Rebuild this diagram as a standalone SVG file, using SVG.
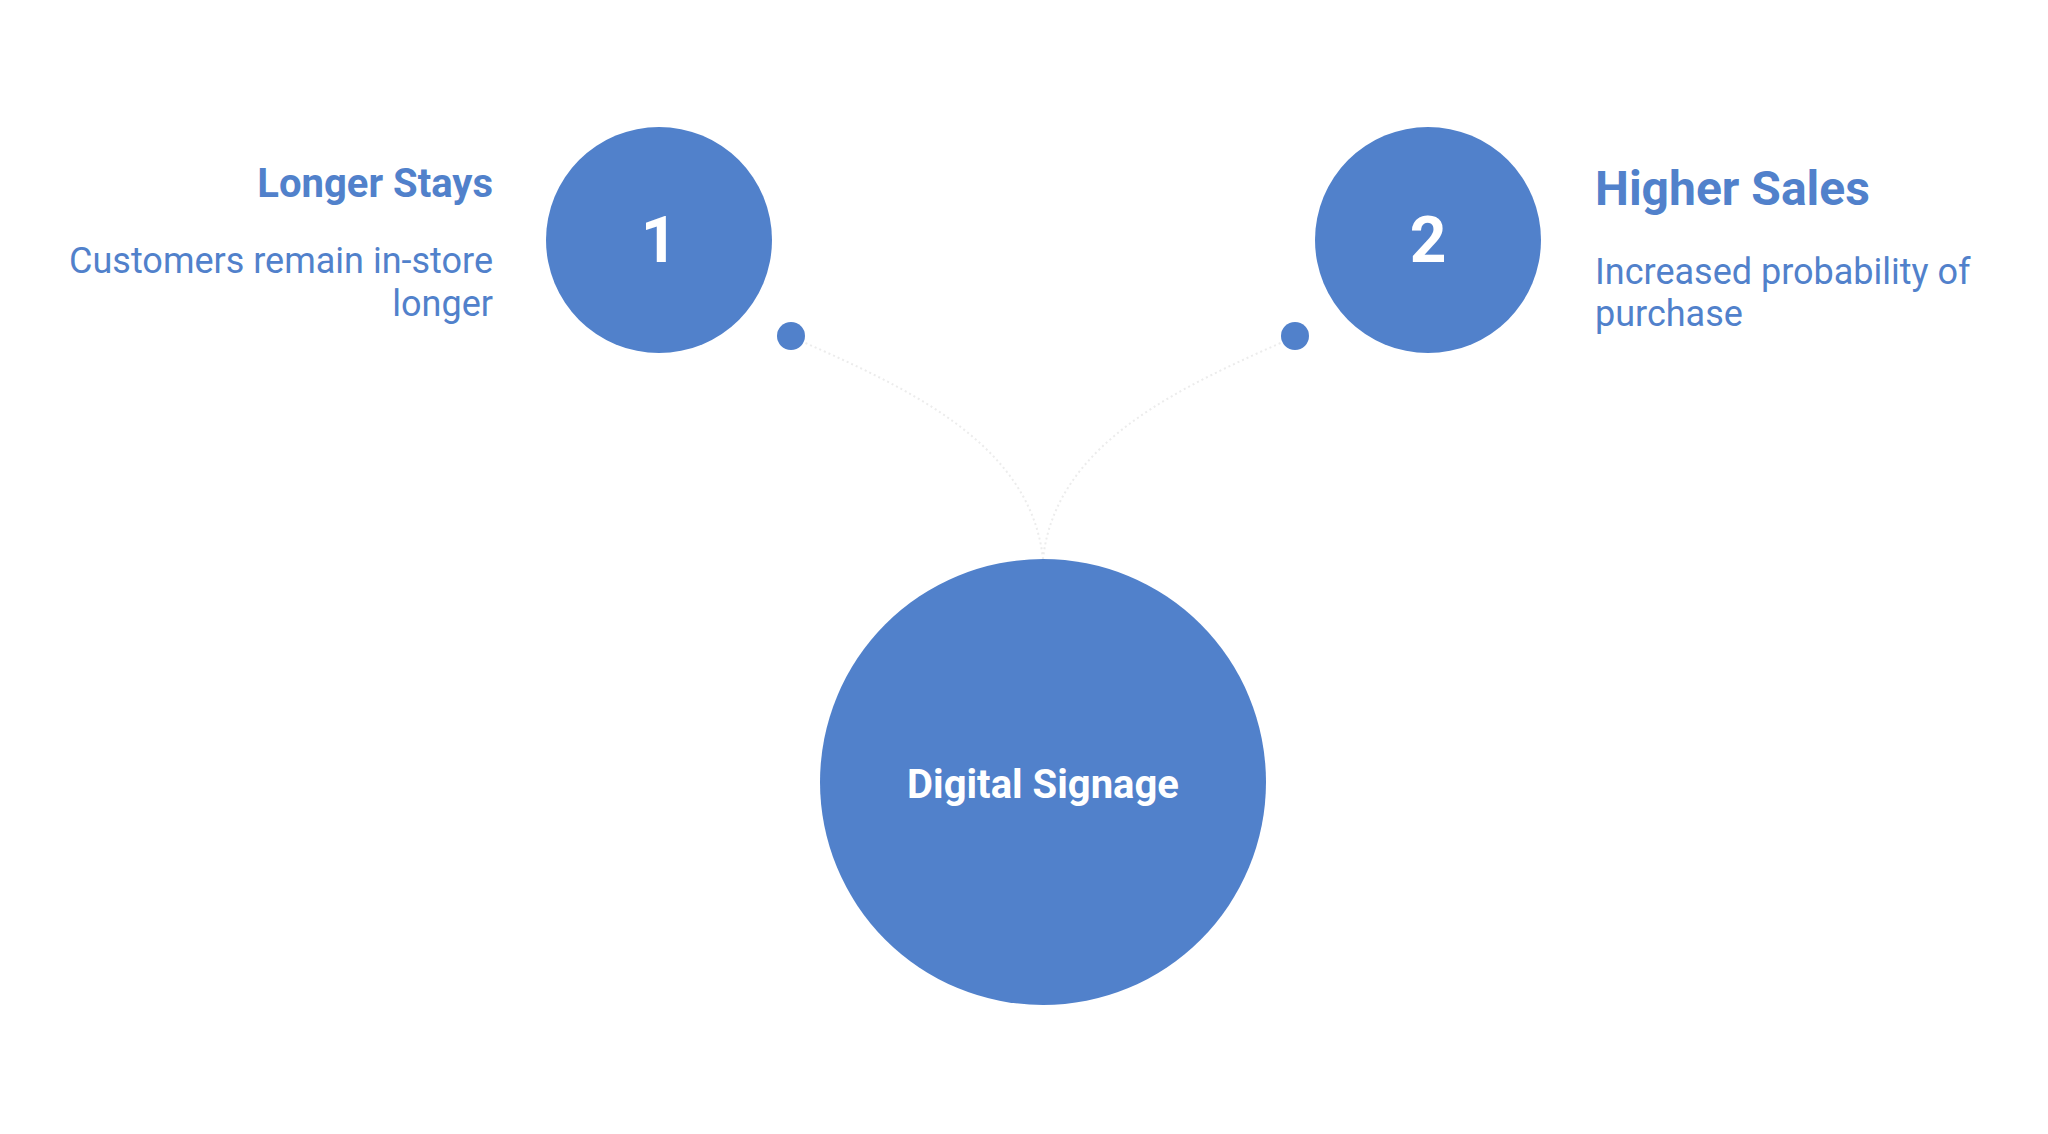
<svg xmlns="http://www.w3.org/2000/svg" width="2048" height="1134" viewBox="0 0 2048 1134">
<style>
.node{fill:#5181cb}
.num{fill:#ffffff;font-family:Roboto,"Liberation Sans",sans-serif;font-weight:700;font-size:64px;text-anchor:middle}
.center{fill:#ffffff;font-family:Roboto,"Liberation Sans",sans-serif;font-weight:700;font-size:40px;text-anchor:middle}
.title{fill:#5181cb;font-family:Roboto,"Liberation Sans",sans-serif;font-weight:700}
.desc{fill:#5181cb;font-family:Roboto,"Liberation Sans",sans-serif;font-weight:400;font-size:36px}
.conn{fill:none;stroke:#ececec;stroke-width:2;stroke-dasharray:2 3}
</style>
<rect width="2048" height="1134" fill="#ffffff"/>
<g id="connectors">
<path class="conn" d="M 792 337 C 900 385, 1030 440, 1043 559"/>
<path class="conn" d="M 1294 337 C 1186 385, 1056 440, 1043 559"/>
</g>
<g id="node-center">
<circle class="node" cx="1043" cy="782" r="223"/>
<text class="center" x="1043" y="798">Digital Signage</text>
</g>
<g id="node-1">
<circle class="node" cx="659" cy="240" r="113"/>
<circle class="node" cx="791" cy="336" r="14"/>
<text class="num" x="659" y="262">1</text>
<text class="title" x="493" y="197" font-size="40" text-anchor="end">Longer Stays</text>
<text class="desc" x="493" y="273" text-anchor="end">Customers remain in-store</text>
<text class="desc" x="493" y="316" text-anchor="end">longer</text>
</g>
<g id="node-2">
<circle class="node" cx="1428" cy="240" r="113"/>
<circle class="node" cx="1295" cy="336" r="14"/>
<text class="num" x="1428" y="262">2</text>
<text class="title" x="1595" y="205" font-size="48">Higher Sales</text>
<text class="desc" x="1595" y="284" >Increased probability of</text>
<text class="desc" x="1595" y="326">purchase</text>
</g>
</svg>
